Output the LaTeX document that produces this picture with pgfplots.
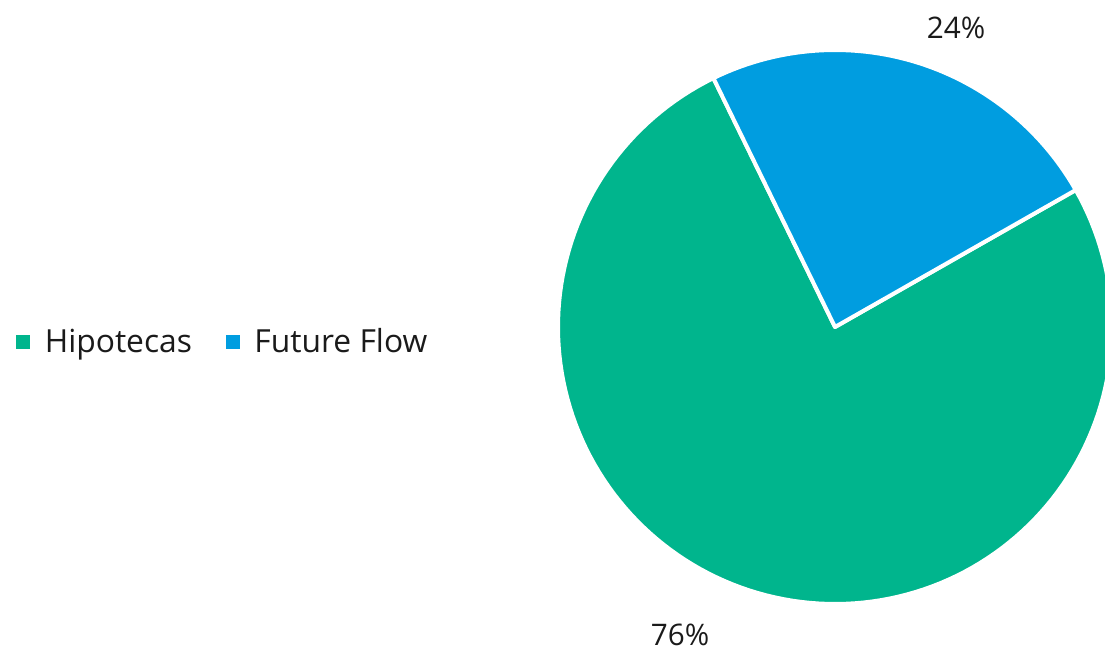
\documentclass[border=0pt]{standalone}
\usepackage{fontspec}
\setmainfont{Open Sans}
\usepackage{pgfplots}
\usepackage{pgfplotstable}
\pgfplotsset{compat=1.18}
\definecolor{hipo}{RGB}{0,181,141}
\definecolor{ffl}{RGB}{0,157,224}
\definecolor{txt}{RGB}{26,26,26}
\pgfplotstableread{
label value
Hipotecas 76
FutureFlow 24
}\piedata
\begin{document}
\begin{tikzpicture}
\pgfplotstablegetelem{0}{value}\of\piedata \let\va\pgfplotsretval
\pgfplotstablegetelem{1}{value}\of\piedata \let\vb\pgfplotsretval
\pgfmathsetmacro\split{116.04}
\pgfmathsetmacro\bstart{\split-\vb*3.6}
\pgfmathsetmacro\gend{\split+\va*3.6}
\begin{axis}[
  scale only axis, width=552.5pt, height=325pt,
  xmin=0, xmax=1105, ymin=0, ymax=650,
  axis line style={draw=none}, xtick=\empty, ytick=\empty,
  clip=true,
  legend columns=2,
  legend image code/.code={\fill[#1, draw=none] (0pt,-3.5pt) rectangle (7pt,3.5pt);},
  legend style={at={(axis cs:10,308)}, anchor=west, draw=none, fill=none,
    font=\fontsize{15.9pt}{19pt}\selectfont, text=txt,
    nodes={inner sep=0pt},
    /tikz/every odd column/.append style={column sep=7.2pt},
    /tikz/every even column/.append style={column sep=17pt}},
]
\addplot[fill=hipo, draw=white, line width=2pt, line join=round, domain=\split:\gend, samples=150, variable=\t]
  ({835+277*cos(t)}, {323+277*sin(t)}) -- (axis cs:835,323) -- cycle;
\addlegendentry{Hipotecas}
\addplot[fill=ffl, draw=white, line width=2pt, line join=round, domain=\bstart:\split, samples=60, variable=\t]
  ({835+277*cos(t)}, {323+277*sin(t)}) -- (axis cs:835,323) -- cycle;
\addlegendentry{Future Flow}
\node[text=txt, font=\fontsize{14.85pt}{18pt}\selectfont] at (axis cs:956,622) {24\%};
\node[text=txt, font=\fontsize{14.85pt}{18pt}\selectfont] at (axis cs:680,15) {76\%};
\end{axis}
\pgfresetboundingbox
\path (current axis.south west) rectangle (current axis.north east);
\end{tikzpicture}
\end{document}
